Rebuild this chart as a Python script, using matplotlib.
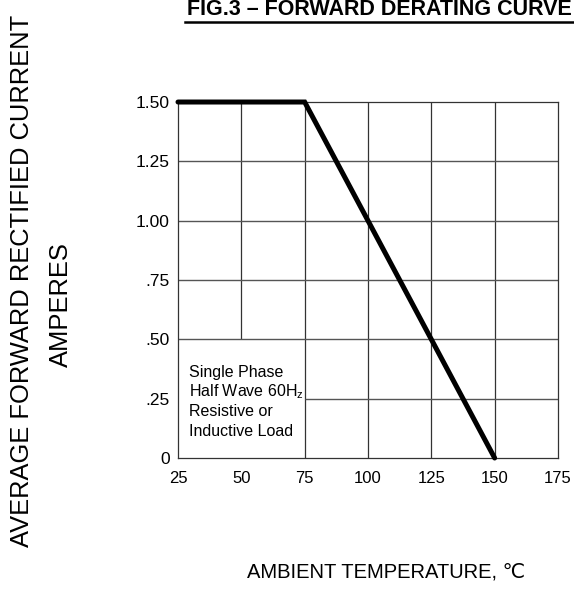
import numpy as np
import matplotlib.pyplot as plt
from matplotlib.lines import Line2D

plt.rcParams['font.family'] = ['Liberation Sans', 'DejaVu Sans']
plt.rcParams['mathtext.fontset'] = 'custom'
plt.rcParams['mathtext.rm'] = 'Liberation Sans'

# derating curve
temp = [25, 75, 150]
current = [1.50, 1.50, 0.0]

x_ticks = [25, 50, 75, 100, 125, 150, 175]
y_ticks = [0, 0.25, 0.50, 0.75, 1.00, 1.25, 1.50]
y_labels = ["0", ".25", ".50", ".75", "1.00", "1.25", "1.50"]

note = ["Single Phase", "Half Wave 60H$_\\mathregular{z}$", "Resistive or", "Inductive Load"]

fig = plt.figure(figsize=(5.74, 5.89), dpi=100)
ax = fig.add_axes([0.3101, 0.2224, 0.662, 0.6044])
ax.set_xlim(25, 175)
ax.set_ylim(0, 1.5)

gc = '#333333'
# grid, leaving the lower left corner free for the note
box_x, box_y = 75, 0.5
for xv in x_ticks[1:-1]:
    lo = box_y if xv < box_x else 0
    ax.vlines(xv, lo, 1.5, color=gc, lw=0.9)
for yv in y_ticks[1:-1]:
    left = box_x if yv < box_y else 25
    ax.hlines(yv, left, 175, color='#555555', lw=1.0)
for s in ax.spines.values():
    s.set_color(gc)
    s.set_linewidth(0.9)

ax.plot(temp, current, color='black', lw=3.6, solid_capstyle='round',
        solid_joinstyle='miter', clip_on=False, zorder=5)

ax.set_xticks(x_ticks)
ax.set_xticklabels([str(t) for t in x_ticks], fontsize=12)
ax.set_yticks(y_ticks)
ax.set_yticklabels(y_labels, fontsize=12.5)
ax.tick_params(axis='x', length=0, pad=9.5)
ax.tick_params(axis='y', length=0, pad=5.8)

for i, line in enumerate(note):
    ax.text(29.3, 0.362 - i * 0.083, line, fontsize=11.5, ha='left', va='center')

# labels
fig.text(0.326, 0.984, "FIG.3 \u2013 FORWARD DERATING CURVE", fontsize=15.5,
         fontweight='bold', ha='left', va='center')
fig.add_artist(Line2D([0.322, 1.0], [0.963, 0.963], color='black', lw=1.8,
                      transform=fig.transFigure))
fig.text(0.039, 0.523, "AVERAGE FORWARD RECTIFIED CURRENT", fontsize=18.4,
         rotation=90, ha='center', va='center')
fig.text(0.106, 0.483, "AMPERES", fontsize=18.4, rotation=90,
         ha='center', va='center')
fig.text(0.672, 0.029, "AMBIENT TEMPERATURE, \u2103", fontsize=14.5,
         ha='center', va='center')

fig.savefig("out.png", dpi=100)
